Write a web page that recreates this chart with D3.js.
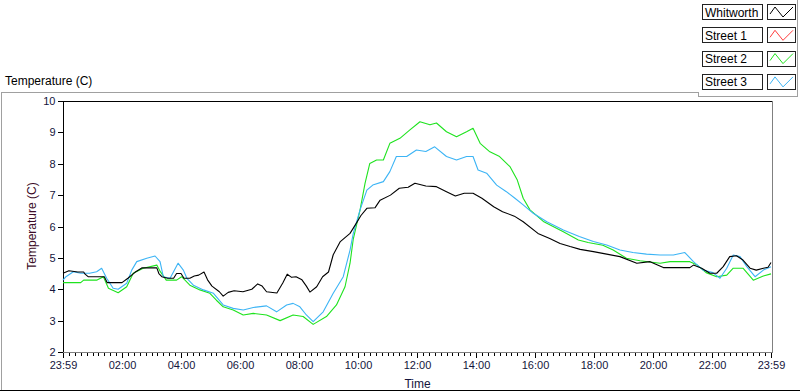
<!DOCTYPE html>
<html>
<head>
<meta charset="utf-8">
<script src="https://cdn.jsdelivr.net/npm/d3@7"></script>
<style>
  body { margin: 0; background: #fff; }
  svg { display: block; font-family: "Liberation Sans", Arial, sans-serif; }
  .frame { shape-rendering: crispEdges; }
</style>
</head>
<body>
<div id="chart"></div>
<script>
// hours after 23:59, temperature (C)
const whitworthHours = [0, 0.2, 0.5, 0.7, 0.75, 0.85, 1.4, 1.5, 2.0, 2.2, 2.44, 2.67, 3.18, 3.25, 3.35, 3.55, 3.75, 3.85, 4.0, 4.1, 4.3, 4.45, 4.6, 4.78, 4.9, 5.05, 5.3, 5.43, 5.6, 5.8, 6.1, 6.4, 6.6, 6.75, 6.9, 7.25, 7.45, 7.6, 7.75, 7.9, 8.1, 8.25, 8.37, 8.6, 8.8, 9.0, 9.16, 9.4, 9.73, 9.94, 10.1, 10.3, 10.58, 10.75, 11.1, 11.4, 11.7, 11.93, 12.3, 12.66, 13.0, 13.3, 13.6, 13.9, 14.2, 14.6, 14.9, 15.3, 15.6, 16.1, 16.5, 16.85, 17.19, 17.53, 17.98, 18.43, 18.88, 19.45, 19.9, 20.35, 21.25, 21.37, 21.65, 21.93, 22.16, 22.38, 22.6, 22.83, 23.05, 23.29, 23.5, 23.74, 23.9, 24.0]
const whitworthTemp = [4.51, 4.59, 4.55, 4.55, 4.48, 4.40, 4.40, 4.21, 4.21, 4.35, 4.54, 4.68, 4.68, 4.50, 4.40, 4.35, 4.35, 4.5, 4.5, 4.35, 4.35, 4.42, 4.45, 4.55, 4.3, 4.1, 3.92, 3.78, 3.9, 3.95, 3.92, 4.0, 4.17, 4.1, 3.92, 3.88, 4.2, 4.48, 4.38, 4.4, 4.3, 4.1, 3.91, 4.08, 4.4, 4.55, 5.1, 5.52, 5.78, 6.10, 6.35, 6.58, 6.6, 6.84, 7.0, 7.22, 7.25, 7.38, 7.29, 7.27, 7.11, 6.97, 7.06, 7.06, 6.9, 6.63, 6.47, 6.33, 6.15, 5.78, 5.62, 5.46, 5.36, 5.27, 5.2, 5.12, 5.04, 4.83, 4.88, 4.69, 4.69, 4.77, 4.67, 4.51, 4.51, 4.72, 5.04, 5.07, 4.93, 4.67, 4.61, 4.67, 4.7, 4.85]

const street1Hours = []
const street1Temp = []

const street2Hours = [0, 0.6, 0.7, 1.14, 1.37, 1.54, 1.87, 2.16, 2.38, 2.72, 3.18, 3.3, 3.5, 3.85, 4.02, 4.3, 4.64, 4.98, 5.2, 5.43, 5.77, 6.11, 6.45, 6.9, 7.36, 7.8, 8.14, 8.48, 8.93, 9.27, 9.56, 9.73, 9.84, 10.07, 10.24, 10.4, 10.63, 10.86, 11.08, 11.42, 11.76, 12.1, 12.44, 12.66, 13.0, 13.34, 13.68, 13.9, 14.14, 14.47, 14.8, 15.15, 15.4, 15.6, 15.83, 16.3, 16.96, 17.47, 17.8, 18.3, 18.65, 19.1, 19.56, 20.24, 20.58, 21.25, 21.5, 21.8, 22.16, 22.5, 22.72, 23.05, 23.4, 23.74, 24.0]
const street2Temp = [4.21, 4.21, 4.29, 4.29, 4.40, 4.03, 3.89, 4.08, 4.51, 4.67, 4.77, 4.56, 4.29, 4.29, 4.40, 4.13, 3.98, 3.87, 3.65, 3.44, 3.34, 3.18, 3.23, 3.18, 3.0, 3.18, 3.13, 2.88, 3.13, 3.50, 4.08, 4.83, 5.6, 6.53, 7.38, 8.01, 8.12, 8.12, 8.65, 8.81, 9.08, 9.34, 9.24, 9.3, 9.02, 8.86, 9.02, 9.13, 8.65, 8.38, 8.23, 7.91, 7.48, 6.9, 6.53, 6.15, 5.83, 5.57, 5.49, 5.4, 5.25, 4.99, 4.91, 4.83, 4.88, 4.88, 4.77, 4.53, 4.40, 4.45, 4.67, 4.67, 4.29, 4.42, 4.49]

const street3Hours = [0, 0.1, 0.35, 0.6, 0.9, 1.14, 1.31, 1.48, 1.7, 1.87, 2.16, 2.33, 2.5, 2.84, 3.12, 3.29, 3.4, 3.63, 3.9, 4.08, 4.2, 4.42, 4.76, 5.1, 5.43, 5.77, 6.11, 6.45, 6.9, 7.24, 7.58, 7.8, 8.03, 8.25, 8.48, 8.82, 9.16, 9.5, 9.73, 9.84, 10.07, 10.3, 10.5, 10.86, 11.08, 11.3, 11.65, 11.98, 12.3, 12.6, 13.0, 13.34, 13.68, 13.9, 14.07, 14.36, 14.7, 15.03, 15.32, 15.6, 15.94, 16.4, 16.96, 17.5, 17.98, 18.43, 18.88, 19.32, 19.78, 20.24, 20.69, 21.08, 21.37, 21.7, 22.03, 22.27, 22.5, 22.72, 22.95, 23.18, 23.46, 23.74, 24.0]
const street3Temp = [4.29, 4.40, 4.56, 4.51, 4.51, 4.56, 4.67, 4.35, 4.03, 4.0, 4.19, 4.61, 4.88, 4.99, 5.06, 4.88, 4.40, 4.35, 4.83, 4.61, 4.35, 4.13, 3.98, 3.87, 3.50, 3.39, 3.34, 3.42, 3.47, 3.28, 3.50, 3.55, 3.44, 3.18, 2.97, 3.28, 3.87, 4.40, 5.25, 5.78, 6.53, 7.16, 7.32, 7.43, 7.75, 8.23, 8.23, 8.44, 8.39, 8.54, 8.23, 8.12, 8.23, 8.23, 7.8, 7.7, 7.32, 7.11, 6.9, 6.69, 6.42, 6.15, 5.89, 5.68, 5.52, 5.41, 5.25, 5.17, 5.12, 5.09, 5.09, 5.17, 4.88, 4.61, 4.53, 4.35, 4.67, 5.09, 5.04, 4.72, 4.40, 4.61, 4.72]

const seriesNames = ["Whitworth", "Street 1", "Street 2", "Street 3"]
const seriesColors = ["#000000", "#ff3c3c", "#1ee31e", "#3cb4f5"]
const xTickHours = [0, 2, 4, 6, 8, 10, 12, 14, 16, 18, 20, 22, 24]
const xTickLabels = ["23:59", "02:00", "04:00", "06:00", "08:00", "10:00", "12:00", "14:00", "16:00", "18:00", "20:00", "22:00", "23:59"]
const yTicks = [2, 3, 4, 5, 6, 7, 8, 9, 10]

const width = 800, height = 392
const plot = { left: 63, right: 772, top: 101, bottom: 352 }

const svg = d3.select("#chart").append("svg")
    .attr("width", width)
    .attr("height", height)

// outer panel
svg.append("path").attr("class", "frame")
    .attr("d", "M1.5,390 V92.5 H698.5 V96.5 H797.5 V0")
    .attr("fill", "none").attr("stroke", "#a0a0a0")
svg.append("line").attr("class", "frame")
    .attr("x1", 0).attr("x2", 800).attr("y1", 390.5).attr("y2", 390.5)
    .attr("stroke", "#000")

svg.append("text")
    .attr("x", 5).attr("y", 85)
    .attr("font-size", 12).attr("fill", "#000")
    .text("Temperature (C)")

const x = d3.scaleLinear().domain([0, 24]).range([plot.left, plot.right - 1])
const y = d3.scaleLinear().domain([2, 10]).range([plot.bottom, plot.top])

// axes
const yAxis = svg.append("g").attr("class", "frame")
    .attr("transform", `translate(${plot.left - 0.5},0)`)
    .call(d3.axisLeft(y).tickValues(yTicks).tickSize(5).tickPadding(2).tickFormat(d3.format("d")))
yAxis.select(".domain").remove()
yAxis.selectAll("text").attr("font-size", 11).attr("fill", "#14143c").attr("font-family", null)
yAxis.selectAll("line").attr("stroke", "#000")

const minorHours = d3.range(0, 24.001, 0.2)
const xMinor = svg.append("g").attr("class", "frame")
    .attr("transform", `translate(0,${plot.bottom + 0.5})`)
    .call(d3.axisBottom(x).tickValues(minorHours).tickSize(3).tickFormat(""))
xMinor.select(".domain").remove()
xMinor.selectAll("line").attr("stroke", "#000")

const xAxis = svg.append("g").attr("class", "frame")
    .attr("transform", `translate(0,${plot.bottom + 0.5})`)
    .call(d3.axisBottom(x).tickValues(xTickHours).tickSize(5).tickPadding(4)
      .tickFormat((d, i) => xTickLabels[i]))
xAxis.select(".domain").remove()
xAxis.selectAll("text").attr("font-size", 11).attr("fill", "#14143c").attr("font-family", null)
xAxis.selectAll("line").attr("stroke", "#000")

// plot frame: dark top/left, grey bottom/right
svg.append("path").attr("class", "frame")
    .attr("d", `M${plot.left + 0.5},${plot.bottom} V${plot.top + 0.5} H${plot.right}`)
    .attr("fill", "none").attr("stroke", "#000")
svg.append("path").attr("class", "frame")
    .attr("d", `M${plot.left},${plot.bottom + 0.5} H${plot.right + 0.5} V${plot.top}`)
    .attr("fill", "none").attr("stroke", "#808080")

svg.append("text")
    .attr("transform", "translate(36,226) rotate(-90)")
    .attr("text-anchor", "middle")
    .attr("font-size", 12).attr("fill", "#3c0c28")
    .text("Temperature (C)")

svg.append("text")
    .attr("x", (plot.left + plot.right) / 2).attr("y", 388)
    .attr("text-anchor", "middle")
    .attr("font-size", 12).attr("fill", "#14143c")
    .text("Time")

// series
const series = [
  { hours: whitworthHours, temp: whitworthTemp },
  { hours: street1Hours, temp: street1Temp },
  { hours: street2Hours, temp: street2Temp },
  { hours: street3Hours, temp: street3Temp }
]

const line = d3.line()
    .x(d => x(d[0]))
    .y(d => y(d[1]))

const drawOrder = [1, 2, 3, 0]
svg.append("g").selectAll("path")
    .data(drawOrder)
  .enter().append("path")
    .attr("d", i => line(d3.zip(series[i].hours, series[i].temp)))
    .attr("fill", "none")
    .attr("stroke", i => seriesColors[i])
    .attr("stroke-width", 1.1)
    .attr("stroke-linejoin", "round")

// legend
const legend = svg.append("g").selectAll("g")
    .data(seriesNames)
  .enter().append("g")
    .attr("transform", (d, i) => `translate(0,${4 + i * 23.3})`)

legend.append("rect").attr("class", "frame")
    .attr("x", 702.5).attr("y", 0.5).attr("width", 60).attr("height", 15)
    .attr("fill", "#fff").attr("stroke", "#222")
legend.append("text")
    .attr("x", 705).attr("y", 12.5)
    .attr("font-size", 12).attr("fill", "#000")
    .text(d => d)
legend.append("rect").attr("class", "frame")
    .attr("x", 767.5).attr("y", 0.5).attr("width", 28).attr("height", 15)
    .attr("fill", "#fff").attr("stroke", "#222")
legend.append("path")
    .attr("d", "M770,10 L775,3 L783,13 L793,3")
    .attr("fill", "none")
    .attr("stroke", (d, i) => seriesColors[i])
</script>
</body>
</html>
